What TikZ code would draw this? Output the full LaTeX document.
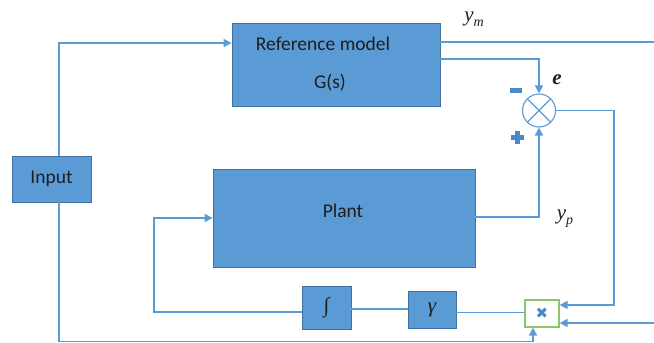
\documentclass[tikz,border=0pt]{standalone}
\usepackage{fontspec}
\setsansfont{Carlito}
\newfontfamily\symfont{DejaVu Sans}
\newfontfamily\labelfont{Liberation Serif}
\usetikzlibrary{arrows.meta,calc}
\definecolor{boxfill}{HTML}{5B9BD5}
\definecolor{boxedge}{HTML}{41719C}
\definecolor{wire}{HTML}{5B9BD5}
\definecolor{signblue}{HTML}{4A88C8}
\definecolor{multedge}{HTML}{8CC66A}
\definecolor{labeltext}{HTML}{1E1E1E}
\newcommand{\subidx}[1]{\raisebox{-0.25em}{\fontsize{14}{14}\selectfont #1}}

\begin{document}
\begin{tikzpicture}[x=1pt,y=-1pt,
  block/.style={draw=boxedge, line width=0.8pt, fill=boxfill, inner sep=0pt,
    font=\sffamily\fontsize{19.5}{22}\selectfont, text=labeltext},
  blocktext/.style={font=\sffamily\fontsize{19.5}{22}\selectfont, text=labeltext, inner sep=0pt},
  mathtext/.style={font=\labelfont\itshape\fontsize{21}{22}\selectfont, text=labeltext, inner sep=0pt},
  wireline/.style={draw=wire, line width=1.5pt},
  arr/.style={wireline, -{Triangle[length=8pt,width=8pt]}},
]
\useasboundingbox (0,0) rectangle (654,343);

% blocks
\node[block, minimum width=79pt, minimum height=46pt] (input) at (51.5,179) {Input};
\node[block, minimum width=208pt, minimum height=83pt] (ref) at (336,64.5) {};
\node[blocktext] (reftitle) at (323,44) {Reference model};
\node[blocktext] (reftf) at (330,83) {G(s)};
\node[block, minimum width=262pt, minimum height=98pt] (plant) at (344,218) {};
\node[blocktext] (planttitle) at (343,211) {Plant};
\node[block, minimum width=49pt, minimum height=43pt, font=\labelfont\fontsize{21}{22}\selectfont] (integ) at (326.5,307.5) {∫};
\node[block, minimum width=48pt, minimum height=37pt, font=\labelfont\itshape\fontsize{21}{22}\selectfont] (gain) at (432,309.5) {γ};
\node[draw=multedge, fill=white, line width=1.2pt, minimum width=34pt, minimum height=27pt, inner sep=0pt,
      font=\symfont\fontsize{15}{16}\selectfont, text=signblue] (mult) at (542,313.5) {✖};

% summing junction
\node[draw=wire, fill=white, line width=1.1pt, circle, minimum size=33pt, inner sep=0pt] (sum) at (539,110.5) {};
\draw[wire, line width=1.1pt] (sum.45) -- (sum.225) (sum.135) -- (sum.315);

% free ends and corners
\coordinate (ymend) at (654,42);
\coordinate (rightin) at (654,323);
\coordinate (inbot) at (59,341.5);
\coordinate (fbk) at (614,305);
\coordinate (loopl) at (154,312);

% connectors
\draw[arr] ([xshift=7.5pt]input.north) |- ([yshift=21.5pt]ref.west);
\draw[arr] ([xshift=7.5pt]input.south) -- (inbot) -| ([xshift=-9pt]mult.south);
\draw[wireline] ([yshift=22.5pt]ref.east) -- (ymend);
\draw[arr] ([yshift=5.5pt]ref.east) -| (sum.north);
\draw[arr] ([yshift=1pt]plant.east) -| (sum.south);
\draw[arr] (sum.east) -| (fbk) -- ([yshift=8.5pt]mult.east);
\draw[arr] (rightin) -- ([yshift=-9.5pt]mult.east);
\draw[wireline] ([yshift=1pt]mult.west) -- ([yshift=1pt]mult.west -| gain.east);
\draw[wireline] ([yshift=0.5pt]gain.west) -- ([yshift=0.5pt]gain.west -| integ.east);
\draw[arr] ([yshift=-4.5pt]integ.west) -- (loopl) |- (plant.west);

% signs at the junction
\fill[signblue] (510,87.5) rectangle (522,92.5);
\fill[signblue] (510.5,134.5) rectangle (523.5,139.5);
\fill[signblue] (514.5,130.5) rectangle (519.5,143.5);

% signal labels
\node[mathtext] (ymlabel) at (474,19) {y\subidx{m}};
\node[mathtext, font=\labelfont\bfseries\itshape\fontsize{21}{22}\selectfont] (elabel) at (557,80) {e};
\node[mathtext] (yplabel) at (565,219) {y\subidx{p}};
\end{tikzpicture}
\end{document}
